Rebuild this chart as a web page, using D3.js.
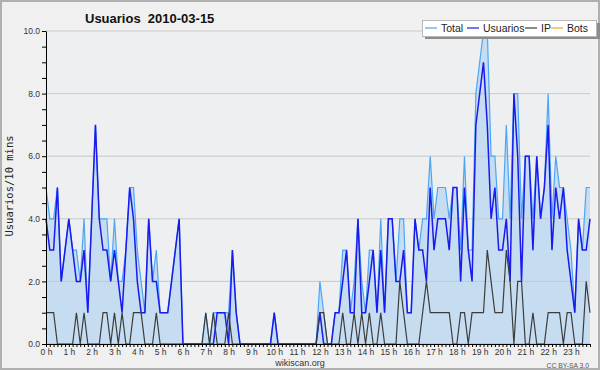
<!DOCTYPE html>
<html>
<head>
<meta charset="utf-8">
<script src="https://cdnjs.cloudflare.com/ajax/libs/d3/7.8.5/d3.min.js"></script>
<style>
  body { margin: 0; background: #f0f0f0; }
  svg { display: block; font-family: "Liberation Sans", Arial, sans-serif; }
</style>
</head>
<body>
<div id="chart"></div>
<script>
// one value per 10 minutes, 2010-03-15 (144 slots)
const hourLabels = ["0 h","1 h","2 h","3 h","4 h","5 h","6 h","7 h","8 h","9 h","10 h","11 h",
    "12 h","13 h","14 h","15 h","16 h","17 h","18 h","19 h","20 h","21 h","22 h","23 h"];

const usuarios = [
    4,3,3,5,2,3,4,3,2,2, 3,1,4,7,4,3,3,2,3,2, 1,3,5,4,2,1,1,4,2,2,
    1,1,1,2,3,4,0,0,0,0, 0,0,0,0,0,1,1,1,0,3, 1,0,0,0,0,0,0,0,0,0,
    1,0,0,0,0,0,0,0,0,0, 0,0,1,0,0,0,1,1,2,3, 1,1,4,1,1,2,3,1,3,1,
    4,4,2,2,3,1,1,4,3,3, 2,5,3,4,4,4,3,5,5,2, 5,3,2,7,8,9,7,4,5,3,
    3,4,2,8,6,2,6,6,3,6, 4,5,7,3,5,4,5,3,2,1, 4,3,3,4];

const ip = [
    1,1,1,0,0,0,0,0,1,0, 1,0,0,0,0,1,1,0,1,0, 1,0,0,1,1,1,0,0,0,1,
    0,0,0,0,0,0,0,0,0,0, 0,0,1,0,1,0,0,0,1,0, 0,0,0,0,0,0,0,0,0,0,
    0,0,0,0,0,0,0,0,0,0, 0,0,1,1,0,0,0,0,1,0, 0,1,0,1,0,1,0,0,1,0,
    0,0,0,2,1,0,0,0,0,1, 2,1,1,1,1,1,1,0,0,1, 1,0,1,1,1,1,3,2,1,1,
    1,3,2,0,2,2,0,0,1,0, 0,0,1,1,1,1,0,1,1,0, 0,0,2,1];

const total = [
    5,4,4,5,2,3,4,3,3,2, 4,1,4,7,4,4,4,2,4,2, 2,3,5,5,3,2,1,4,2,3,
    1,1,1,2,3,4,0,0,0,0, 0,0,1,0,1,1,1,1,1,3, 1,0,0,0,0,0,0,0,0,0,
    1,0,0,0,0,0,0,0,0,0, 0,0,2,1,0,0,1,1,3,3, 1,2,4,2,1,3,3,1,4,1,
    4,4,2,4,4,1,1,4,3,4, 4,6,4,5,5,5,4,5,5,3, 6,3,3,8,9,10,10,6,6,4,
    4,7,4,8,8,4,6,6,4,6, 4,5,8,4,6,5,5,4,3,1, 4,3,5,5];

const bots = [
    0,0,0,0,0,0,0,0,0,0, 0,0,0,0,0,0,0,0,0,0, 0,0,0,0,0,0,0,0,0,0,
    0,0,0,0,0,0,0,0,0,0, 0,0,0,0,0,0,0,0,0,0, 0,0,0,0,0,0,0,0,0,0,
    0,0,0,0,0,0,0,0,0,0, 0,0,0,0,0,0,0,0,0,0, 0,0,0,0,0,0,0,0,0,0,
    0,0,0,0,0,0,0,0,0,0, 0,0,0,0,0,0,0,0,0,0, 0,0,0,0,0,0,0,0,0,0,
    0,0,0,0,0,0,0,0,0,0, 0,0,0,0,0,0,0,0,0,0, 0,0,0,0];

const seriesNames = ["Total", "Usuarios", "IP", "Bots"];

class usersChart {
    constructor(parentElement) {
        this.parentElement = parentElement;
        this.colors = {Total: "#4ba6f5", Usuarios: "#1a1aee", IP: "#3c3c3c", Bots: "#ffa21a"};
        this.initVis();
    }

    initVis() {
        let vis = this;

        vis.margin = {top: 31, right: 10, bottom: 26, left: 46};
        vis.width = 600 - vis.margin.left - vis.margin.right;
        vis.height = 370 - vis.margin.top - vis.margin.bottom;

        vis.root = d3.select("#" + vis.parentElement).append("svg")
            .attr("width", 600)
            .attr("height", 370);

        vis.root.append("rect")
            .attr("x", 1).attr("y", 1)
            .attr("width", 598).attr("height", 368)
            .attr("fill", "#f0f0f0")
            .attr("stroke", "#b0b0b0")
            .attr("stroke-width", 2);

        vis.svg = vis.root.append("g")
            .attr("transform", "translate(" + vis.margin.left + "," + vis.margin.top + ")");

        vis.svg.append("rect")
            .attr("width", vis.width)
            .attr("height", vis.height)
            .attr("fill", "#eeeff1");

        vis.x = d3.scaleLinear()
            .domain([0, usuarios.length - 1])
            .range([0, vis.width]);

        vis.y = d3.scaleLinear()
            .domain([0, 10])
            .range([vis.height, 0]);

        vis.xAxis = d3.axisBottom(vis.x)
            .tickValues(d3.range(0, usuarios.length))
            .tickSize(3)
            .tickSizeOuter(0)
            .tickPadding(2)
            .tickFormat(i => i % 6 === 0 ? hourLabels[i / 6] : "");

        vis.yAxis = d3.axisLeft(vis.y)
            .tickValues(d3.range(0, 10.5, 0.5))
            .tickSize(4)
            .tickSizeOuter(0)
            .tickPadding(2)
            .tickFormat(d => d % 2 === 0 ? d3.format(".1f")(d) : "");

        // texts outside the plot
        vis.root.append("text")
            .attr("x", 85).attr("y", 23)
            .style("white-space", "pre")
            .attr("font-size", 13)
            .attr("font-weight", "bold")
            .attr("fill", "#111")
            .text("Usuarios  2010-03-15");

        vis.root.append("text")
            .attr("transform", "translate(13,186) rotate(-90)")
            .attr("text-anchor", "middle")
            .attr("font-family", "DejaVu Sans Mono, monospace")
            .attr("font-size", 10.5)
            .attr("fill", "#222")
            .text("Usuarios/10 mins");

        vis.root.append("text")
            .attr("x", 300).attr("y", 366)
            .attr("text-anchor", "middle")
            .attr("font-size", 9)
            .attr("fill", "#333")
            .text("wikiscan.org");

        vis.root.append("text")
            .attr("x", 589).attr("y", 368)
            .attr("text-anchor", "end")
            .attr("font-size", 6.8)
            .attr("fill", "#555")
            .text("CC BY-SA 3.0");

        vis.wrangleData();
    }

    wrangleData() {
        let vis = this;
        let lookup = {Total: total, Usuarios: usuarios, IP: ip, Bots: bots};
        vis.series = seriesNames.map(name => ({name: name, values: lookup[name]}));
        vis.updateVis();
    }

    updateVis() {
        let vis = this;

        vis.area = d3.area()
            .x((d, i) => vis.x(i))
            .y0(vis.y(0))
            .y1(d => vis.y(d));

        vis.line = d3.line()
            .x((d, i) => vis.x(i))
            .y(d => vis.y(d));

        vis.svg.append("path")
            .datum(total)
            .attr("fill", "#c6ddf1")
            .attr("d", vis.area);

        vis.svg.selectAll(".grid")
            .data(vis.y.ticks(5).filter(d => d > 0))
            .enter()
            .append("line")
            .attr("class", "grid")
            .attr("x1", 0).attr("x2", vis.width)
            .attr("y1", d => vis.y(d)).attr("y2", d => vis.y(d))
            .attr("stroke", "#c9c9c9")
            .attr("stroke-width", 1);

        // bots first so it stays under the others
        let drawOrder = ["Bots", "Total", "Usuarios", "IP"];
        let widths = {Total: 1.2, Usuarios: 1.5, IP: 1.2, Bots: 1.2};
        vis.svg.selectAll(".serie")
            .data(drawOrder.map(n => vis.series.find(s => s.name === n)))
            .enter()
            .append("path")
            .attr("class", "serie")
            .attr("fill", "none")
            .attr("stroke", d => vis.colors[d.name])
            .attr("stroke-width", d => widths[d.name])
            .attr("stroke-linejoin", "miter")
            .attr("d", d => vis.line(d.values));

        vis.svg.append("g")
            .attr("class", "x-axis axis")
            .attr("transform", "translate(0," + vis.height + ")")
            .call(vis.xAxis);

        vis.svg.append("g")
            .attr("class", "y-axis axis")
            .call(vis.yAxis);

        vis.svg.selectAll(".axis text")
            .attr("font-size", 8.5)
            .attr("fill", "#333");
        vis.svg.selectAll(".axis path, .axis line")
            .attr("stroke", "#000");

        // legend box with shadow
        let legend = vis.root.append("g").attr("transform", "translate(422,20)");
        legend.append("rect")
            .attr("x", 3).attr("y", 3)
            .attr("width", 175).attr("height", 16)
            .attr("fill", "#8c8c8c");
        legend.append("rect")
            .attr("x", 0.5).attr("y", 0.5)
            .attr("width", 174).attr("height", 16)
            .attr("fill", "#fff")
            .attr("stroke", "#b8b8b8");

        let legendX = [3, 45, 103, 129];
        let entries = legend.selectAll(".entry")
            .data(seriesNames)
            .enter()
            .append("g")
            .attr("class", "entry")
            .attr("transform", (d, i) => "translate(" + legendX[i] + ",0)");
        entries.append("line")
            .attr("x1", 0).attr("x2", 12)
            .attr("y1", 8).attr("y2", 8)
            .attr("stroke", d => vis.colors[d])
            .attr("stroke-width", 1.2);
        entries.append("text")
            .attr("x", 16).attr("y", 12)
            .attr("font-size", 10.5)
            .attr("fill", "#222")
            .text(d => d);
    }
}

new usersChart("chart");
</script>
</body>
</html>
